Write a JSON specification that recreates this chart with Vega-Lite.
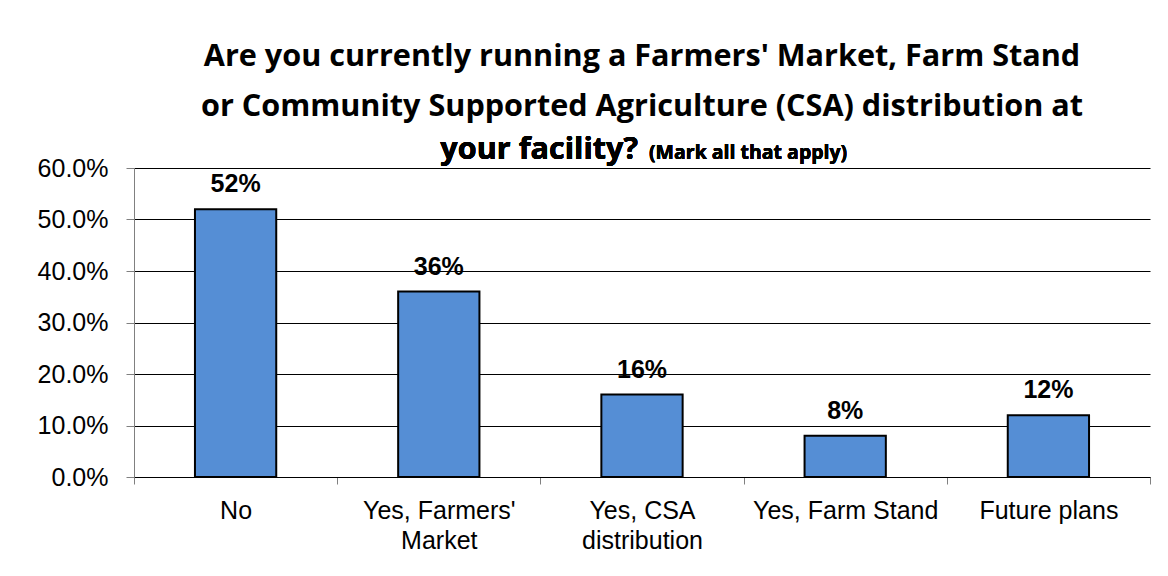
{
  "$schema": "https://vega.github.io/schema/vega-lite/v6.json",
  "width": 1016,
  "height": 309,
  "autosize": {"type": "none"},
  "padding": {"left": 134, "top": 168, "right": 18, "bottom": 99},
  "background": "white",
  "title": {
    "text": ["Are you currently running a Farmers' Market, Farm Stand", "or Community Supported Agriculture (CSA) distribution at"],
    "font": "Open Sans",
    "fontSize": 30.6,
    "fontWeight": "bold",
    "color": "black",
    "lineHeight": 50,
    "anchor": "middle",
    "offset": 12
  },
  "config": {
    "view": {"stroke": null}
  },
  "data": {
    "values": [
      {"answer": "No", "share": 0.52},
      {"answer": "Yes, Farmers' Market", "share": 0.36},
      {"answer": "Yes, CSA distribution", "share": 0.16},
      {"answer": "Yes, Farm Stand", "share": 0.08},
      {"answer": "Future plans", "share": 0.12}
    ]
  },
  "encoding": {
    "x": {
      "field": "answer",
      "type": "nominal",
      "sort": null,
      "scale": {"paddingInner": 0, "paddingOuter": 0},
      "axis": {
        "title": null,
        "labelAngle": 0,
        "labelFont": "Liberation Sans",
        "labelFontSize": 25,
        "labelColor": "black",
        "labelLineHeight": 30,
        "labelPadding": 14,
        "labelLimit": 400,
        "tickBand": "extent",
        "tickColor": "#808080",
        "tickSize": 7,
        "domainColor": "black",
        "labelExpr": "datum.value == \"Yes, Farmers' Market\" ? [\"Yes, Farmers'\", \"Market\"] : datum.value == \"Yes, CSA distribution\" ? [\"Yes, CSA\", \"distribution\"] : datum.value"
      }
    }
  },
  "layer": [
    {
      "mark": {"type": "bar", "width": {"band": 0.4}, "color": "#558ED5", "stroke": "black", "strokeWidth": 2},
      "encoding": {
        "y": {
          "field": "share",
          "type": "quantitative",
          "scale": {"domain": [0, 0.6]},
          "axis": {
            "title": null,
            "format": ".1%",
            "values": [0, 0.1, 0.2, 0.3, 0.4, 0.5, 0.6],
            "labelFont": "Liberation Sans",
            "labelFontSize": 25,
            "labelColor": "black",
            "labelPadding": 18,
            "tickColor": "#808080",
            "tickSize": 8,
            "domainColor": "#808080",
            "grid": true,
            "gridColor": "black",
            "gridOpacity": 1
          }
        }
      }
    },
    {
      "mark": {"type": "text", "font": "Liberation Sans", "fontSize": 25, "fontWeight": "bold", "baseline": "alphabetic", "dy": -17, "color": "black"},
      "encoding": {
        "y": {"field": "share", "type": "quantitative"},
        "text": {"field": "share", "type": "quantitative", "format": ".0%"}
      }
    },
    {
      "mark": {"type": "text", "font": "Open Sans", "fontSize": 30.6, "fontWeight": "bold", "align": "right", "baseline": "alphabetic", "dx": -4, "dy": -9, "color": "black"},
      "encoding": {
        "x": {"datum": "Yes, CSA distribution"},
        "y": {"datum": 0.6, "type": "quantitative"},
        "text": {"value": "your facility?"}
      }
    },
    {
      "mark": {"type": "text", "font": "Open Sans", "fontSize": 19.5, "fontWeight": "bold", "align": "left", "baseline": "alphabetic", "dx": 7, "dy": -9, "color": "black"},
      "encoding": {
        "x": {"datum": "Yes, CSA distribution"},
        "y": {"datum": 0.6, "type": "quantitative"},
        "text": {"value": "(Mark all that apply)"}
      }
    }
  ]
}
